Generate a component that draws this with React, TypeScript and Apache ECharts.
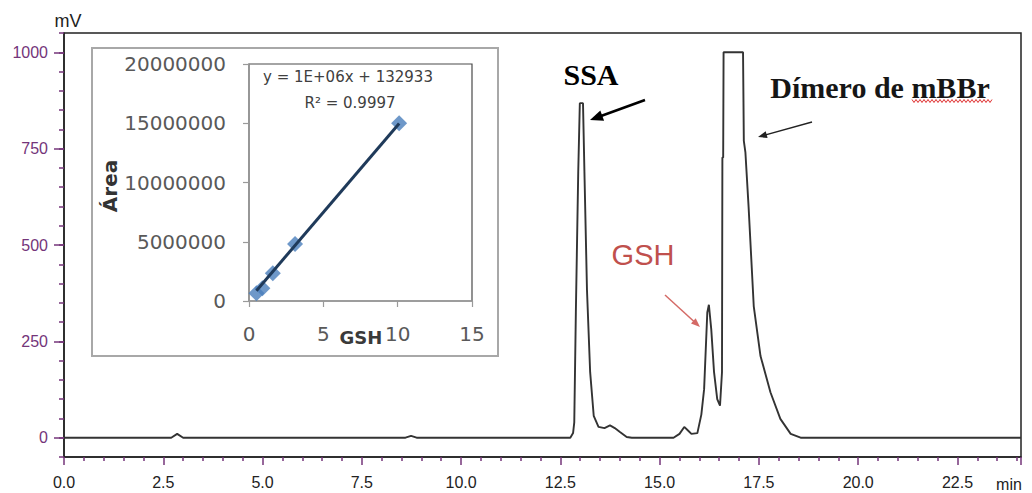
import React, { useEffect, useRef } from "react";
import * as echarts from "echarts";

// Chromatogram (time in min, signal in mV)
const times = [0, 2.7, 2.85, 3.0, 8.6, 8.74, 8.88, 12.75, 12.82, 12.85, 12.89, 12.95, 12.99, 13.07, 13.11, 13.17, 13.25, 13.34, 13.46, 13.61, 13.75, 13.87, 14.0, 14.17, 14.3, 15.35, 15.5, 15.62, 15.72, 15.8, 15.95, 16.05, 16.12, 16.2, 16.24, 16.3, 16.37, 16.45, 16.52, 16.57, 16.58, 16.6, 16.61, 17.1, 17.12, 17.16, 17.24, 17.37, 17.54, 17.79, 18.04, 18.3, 18.55, 24.1];
const signal = [0, 0, 10, 0, 0, 5, 0, 0, 12, 40, 325, 690, 868, 868, 670, 384, 170, 57, 28, 25, 32, 25, 15, 2, 0, 0, 10, 28, 18, 10, 12, 60, 126, 325, 345, 281, 170, 100, 83, 170, 727, 727, 1000, 1000, 770, 740, 599, 341, 212, 118, 49, 10, 0, 0];

const yMajorTicks = [0, 250, 500, 750, 1000];
const yMinorTicks = [-50, 0, 50, 100, 150, 200, 250, 300, 350, 400, 450, 500, 550, 600, 650, 700, 750, 800, 850, 900, 950, 1000, 1050];

// Inset calibration curve
const gshConc = [0.5, 0.9, 1.6, 3.1, 10.1];
const gshArea = [650000, 1070000, 2340000, 4810000, 15000000];
const trendX = [0.5, 10.1];
const trendY = [870000, 14980000];

const PURPLE = "#74357a";

function arrow(x1: number, y1: number, x2: number, y2: number, color: string, lw: number, hl: number, hw: number) {
  const dx = x2 - x1, dy = y2 - y1;
  const L = Math.hypot(dx, dy);
  const ux = dx / L, uy = dy / L;
  const bx = x2 - ux * hl, by = y2 - uy * hl;
  const px = -uy, py = ux;
  return [
    { type: "line", shape: { x1, y1, x2: bx + ux * 2, y2: by + uy * 2 }, style: { stroke: color, lineWidth: lw }, z: 10 },
    {
      type: "polygon",
      shape: { points: [[x2, y2], [bx + (px * hw) / 2, by + (py * hw) / 2], [bx - (px * hw) / 2, by - (py * hw) / 2]] },
      style: { fill: color },
      z: 10,
    },
  ];
}

function squiggle(xa: number, xb: number, y: number) {
  const pts: number[][] = [];
  let up = true;
  for (let x = xa; x <= xb; x += 2) {
    pts.push([x, up ? y - 1.5 : y + 1.5]);
    up = !up;
  }
  return { type: "polyline", shape: { points: pts }, style: { stroke: "#e03030", lineWidth: 1, fill: null }, z: 10 };
}

export default function App() {
  const ref = useRef<HTMLDivElement>(null);
  useEffect(() => {
    if (!ref.current) return;
    const chart = echarts.init(ref.current, null, { renderer: "svg" });
    const mainData = times.map((t, i) => [t, signal[i]]);
    const scatterData = gshConc.map((c, i) => [c, gshArea[i]]);
    const trendData = trendX.map((c, i) => [c, trendY[i]]);
    const plain = (v: number) => String(v);
    const option: any = {
      animation: false,
      backgroundColor: "#ffffff",
      grid: [
        { left: 64, top: 33, right: 11, bottom: 36, show: true, borderColor: "#222", borderWidth: 1.5, backgroundColor: "transparent" },
        { left: 249, top: 64, width: 223, height: 237, show: true, borderColor: "#4a4a4a", borderWidth: 1.2, backgroundColor: "transparent" },
      ],
      xAxis: [
        {
          type: "value",
          gridIndex: 0,
          min: 0,
          max: 24.1,
          interval: 2.5,
          axisLine: { show: true, onZero: false, lineStyle: { color: "#222", width: 1.5 } },
          axisTick: { show: true, length: 8, lineStyle: { color: PURPLE, width: 1.5 } },
          minorTick: { show: true, splitNumber: 5, length: 4, lineStyle: { color: PURPLE, width: 1.5 } },
          axisLabel: { color: "#222", fontSize: 16, fontFamily: "Liberation Sans", margin: 17, showMaxLabel: false, formatter: (v: number) => v.toFixed(1) },
          splitLine: { show: false },
        },
        {
          type: "value",
          gridIndex: 1,
          min: 0,
          max: 15,
          interval: 5,
          axisLine: { show: true, onZero: false, lineStyle: { color: "#9a9a9a", width: 1.5 } },
          axisTick: { show: true, length: 6, lineStyle: { color: "#9a9a9a", width: 1.2 } },
          axisLabel: { color: "#595959", fontSize: 20, fontFamily: "DejaVu Sans", margin: 23, formatter: plain },
          splitLine: { show: false },
        },
      ],
      yAxis: [
        {
          type: "value",
          gridIndex: 0,
          position: "left",
          min: -50,
          max: 1050,
          axisLine: { show: true, onZero: false, lineStyle: { color: "#222", width: 1.5 } },
          axisTick: { show: true, length: 10, customValues: yMajorTicks, lineStyle: { color: PURPLE, width: 1.5 } },
          axisLabel: { color: PURPLE, fontSize: 16, fontFamily: "Liberation Sans", margin: 16, customValues: yMajorTicks, formatter: plain },
          splitLine: { show: false },
        },
        {
          type: "value",
          gridIndex: 0,
          position: "left",
          min: -50,
          max: 1050,
          axisLine: { show: false },
          axisTick: { show: true, length: 5, customValues: yMinorTicks, lineStyle: { color: PURPLE, width: 1.5 } },
          axisLabel: { show: false },
          splitLine: { show: false },
        },
        {
          type: "value",
          gridIndex: 1,
          position: "left",
          min: 0,
          max: 20000000,
          interval: 5000000,
          axisLine: { show: true, onZero: false, lineStyle: { color: "#9a9a9a", width: 1.5 } },
          axisTick: { show: true, length: 6, lineStyle: { color: "#9a9a9a", width: 1.2 } },
          axisLabel: { color: "#595959", fontSize: 20, fontFamily: "DejaVu Sans", margin: 23, formatter: plain },
          splitLine: { show: false },
        },
      ],
      series: [
        {
          type: "line",
          xAxisIndex: 0,
          yAxisIndex: 0,
          data: mainData,
          showSymbol: false,
          symbol: "none",
          lineStyle: { color: "#333333", width: 1.9 },
          z: 3,
        },
        {
          type: "scatter",
          xAxisIndex: 1,
          yAxisIndex: 2,
          data: scatterData,
          symbol: "diamond",
          symbolSize: 16,
          itemStyle: { color: "#4a7ebb" },
          z: 3,
        },
        {
          type: "line",
          xAxisIndex: 1,
          yAxisIndex: 2,
          data: trendData,
          showSymbol: false,
          symbol: "none",
          lineStyle: { color: "#1f3a5a", width: 3 },
          z: 4,
        },
      ],
      graphic: [
        { type: "rect", shape: { x: 92, y: 48, width: 406, height: 308 }, style: { fill: "#ffffff", stroke: "#a8a8a8", lineWidth: 2 }, z: -10 },
        { type: "text", x: 68, y: 21, style: { text: "mV", fill: "#222", fontSize: 18, fontFamily: "Liberation Sans", align: "center", verticalAlign: "middle" }, z: 10 },
        { type: "text", x: 1009, y: 484, style: { text: "min", fill: "#222", fontSize: 16, fontFamily: "Liberation Sans", align: "center", verticalAlign: "middle" }, z: 10 },
        { type: "text", x: 591, y: 74, style: { text: "SSA", fill: "#000", fontSize: 30, fontWeight: "bold", fontFamily: "Liberation Serif", align: "center", verticalAlign: "middle" }, z: 10 },
        { type: "text", x: 880, y: 87, style: { text: "Dímero de mBBr", fill: "#161616", fontSize: 30, fontWeight: "bold", fontFamily: "Liberation Serif", align: "center", verticalAlign: "middle" }, z: 10 },
        { type: "text", x: 643, y: 255, style: { text: "GSH", fill: "#c0504d", fontSize: 29, fontFamily: "Liberation Sans", align: "center", verticalAlign: "middle" }, z: 10 },
        { type: "text", x: 361, y: 337, style: { text: "GSH", fill: "#3a3a3a", fontSize: 18, fontWeight: "bold", fontFamily: "DejaVu Sans", align: "center", verticalAlign: "middle" }, z: 10 },
        { type: "text", x: 348, y: 77, style: { text: "y = 1E+06x + 132933", fill: "#404040", fontSize: 15, fontFamily: "DejaVu Sans", align: "center", verticalAlign: "middle" }, z: 10 },
        { type: "text", x: 350, y: 103, style: { text: "R² = 0.9997", fill: "#404040", fontSize: 15, fontFamily: "DejaVu Sans", align: "center", verticalAlign: "middle" }, z: 10 },
        { type: "text", x: 110, y: 186, rotation: Math.PI / 2, style: { text: "Área", fill: "#333", fontSize: 20, fontWeight: "bold", fontFamily: "DejaVu Sans", align: "center", verticalAlign: "middle" }, z: 10 },
        ...arrow(645, 100, 590, 120, "#000", 2.5, 13, 11),
        ...arrow(812, 122, 758, 137, "#222", 1.5, 9, 7),
        ...arrow(665, 295, 700, 327, "#d46a66", 1.5, 9, 7),
        squiggle(912, 992, 101),
      ],
    };
    chart.setOption(option);
    return () => chart.dispose();
  }, []);
  return <div ref={ref} style={{ position: "fixed", left: 0, top: 0, width: 1032, height: 493 }} />;
}
